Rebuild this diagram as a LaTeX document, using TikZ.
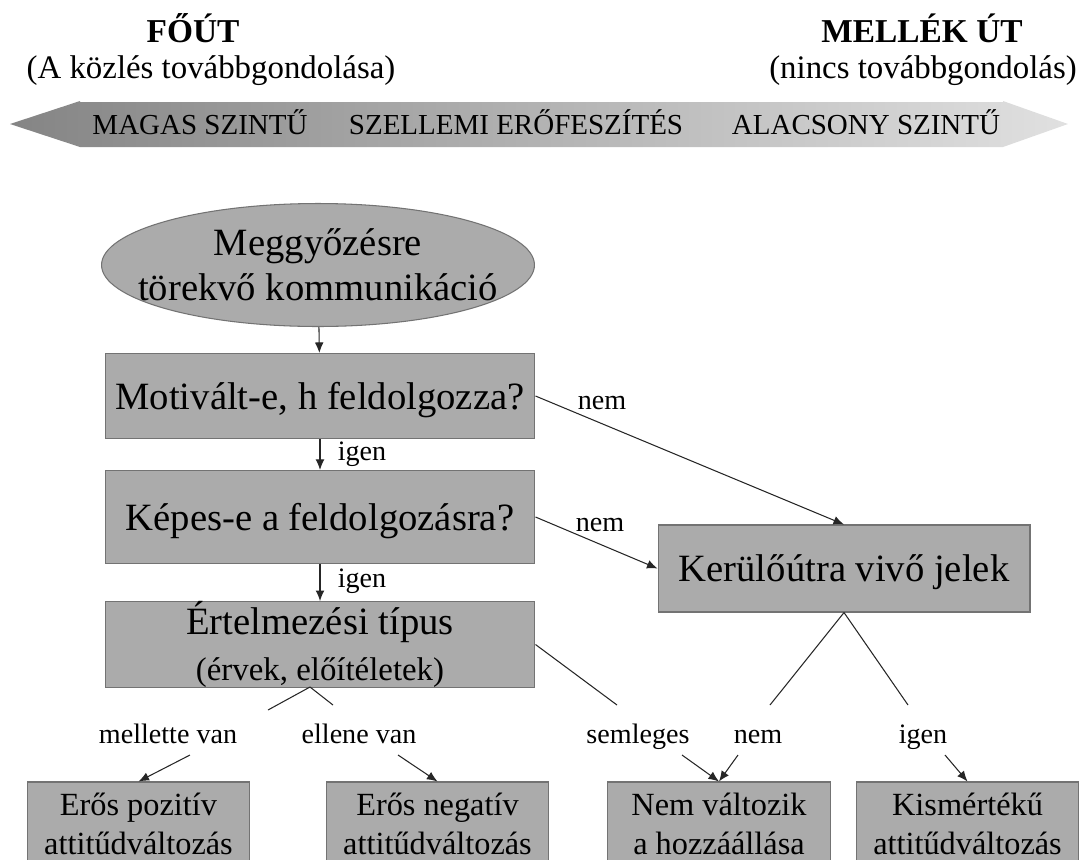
\documentclass[tikz,border=0pt]{standalone}
\usepackage{fontspec}
\setmainfont{Liberation Serif}
\usetikzlibrary{arrows.meta,shapes.geometric}
\begin{document}
\begin{tikzpicture}[x=0.02cm,y=-0.02cm,line width=0.6pt]
        \tikzstyle{doboz}=[draw=black!55,fill=black!33,inner sep=0pt,align=center,font=\fontsize{22}{26}\selectfont];
        \tikzstyle{egysor}=[doboz,text depth=0pt];
        \tikzstyle{eredmeny}=[doboz,minimum width=4.45cm,minimum height=1.68cm,font=\fontsize{18.4}{22}\selectfont];
        \tikzstyle{felirat}=[anchor=base,inner sep=0pt,font=\fontsize{16}{19}\selectfont];
        \tikzstyle{fejlec}=[anchor=base,inner sep=0pt,font=\fontsize{18.7}{22}\selectfont];
        \tikzstyle{vonal}=[draw=black!85];
        \tikzstyle{nyil}=[vonal,-{Latex[length=6pt,width=5pt]}];
        \useasboundingbox (0,0) rectangle (1081,859);
        \clip (0,0) rectangle (1081,859);
        %fejlec
        \node[fejlec,font=\fontsize{19}{22}\selectfont\bfseries] (fout) at (193,42) {FŐÚT};
        \node[fejlec] (fout2) at (211,78) {(A közlés továbbgondolása)};
        \node[fejlec,font=\fontsize{19}{22}\selectfont\bfseries] (mellek) at (922,42) {MELLÉK ÚT};
        \node[fejlec] (mellek2) at (923,78) {(nincs továbbgondolás)};
        %szurke nyil
        \shade[left color=black!48,right color=black!12] (10,124) -- (80,101) -- (80,102) -- (1003,102) -- (1003,101) -- (1068,124) -- (1003,147) -- (80,147) -- cycle;
        \node[felirat,font=\fontsize{16.5}{19}\selectfont] (magas) at (200,134) {MAGAS SZINTŰ};
        \node[felirat,font=\fontsize{16.5}{19}\selectfont] (szell) at (516,134) {SZELLEMI ERŐFESZÍTÉS};
        \node[felirat,font=\fontsize{16.5}{19}\selectfont] (alacs) at (866,134) {ALACSONY SZINTŰ};
        %csomopontok
        \node[doboz,ellipse,inner xsep=-3cm,inner ysep=-1.5cm,minimum width=8.66cm,minimum height=2.46cm,font=\fontsize{22}{25.5}\selectfont] (kozles) at (318,265) {Meggyőzésre\\törekvő kommunikáció};
        \node[egysor,minimum width=8.6cm,minimum height=1.7cm] (motiv) at (320,396) {Motivált-e, h feldolgozza?};
        \node[egysor,minimum width=8.6cm,minimum height=1.86cm] (kepes) at (320,517) {Képes-e a feldolgozásra?};
        \node[doboz,minimum width=8.6cm,minimum height=1.7cm] (ertelm) at (320,644.5) {Értelmezési típus\\{\fontsize{18.7}{22}\selectfont(érvek, előítéletek)}};
        \node[egysor,minimum width=7.44cm,minimum height=1.74cm] (kerulo) at (844,568.5) {Kerülőútra vivő jelek};
        \node[eredmeny] (poz) at (138.5,824) {Erős pozitív\\attitűdváltozás};
        \node[eredmeny] (neg) at (437.5,824) {Erős negatív\\attitűdváltozás};
        \node[eredmeny] (nemvalt) at (719,824) {Nem változik\\a hozzáállása};
        \node[eredmeny] (kism) at (967.5,824) {Kismértékű\\attitűdváltozás};
        %feliratok
        \node[felirat] (igen1) at (362,460) {igen};
        \node[felirat] (igen2) at (362,587) {igen};
        \node[felirat] (nem1) at (602,409) {nem};
        \node[felirat] (nem2) at (600,531) {nem};
        \node[felirat] (mell) at (168,743) {mellette van};
        \node[felirat] (ellen) at (359,743) {ellene van};
        \node[felirat] (semleg) at (638,743) {semleges};
        \node[felirat] (nem3) at (758,743) {nem};
        \node[felirat] (igen3) at (923,743) {igen};
        \coordinate (ert-al) at (310,687);
        \coordinate (mell-fel) at (268,710);
        \coordinate (ellen-fel) at (333,705);
        \coordinate (mell-le) at (190,755);
        \coordinate (ellen-le) at (398,755);
        \coordinate (sem-fel) at (617,705);
        \coordinate (sem-le) at (682,755);
        \coordinate (knem-fel) at (770,705);
        \coordinate (knem-le) at (738,755);
        \coordinate (kigen-fel) at (908,705);
        \coordinate (kigen-le) at (945,755);
        %nyilak
        \draw[nyil] (kozles) -- (motiv);
        \draw[nyil] (motiv) -- (kepes);
        \draw[nyil] (kepes) -- (ertelm);
        \draw[nyil] (motiv.east) -- (kerulo.north);
        \draw[nyil] (kepes.east) -- (kerulo.west);
        \draw[vonal] (ert-al) -- (mell-fel)
        (ert-al) -- (ellen-fel)
        (ertelm.east) -- (sem-fel)
        (kerulo.south) -- (knem-fel)
        (kerulo.south) -- (kigen-fel);
        \draw[nyil] (mell-le) -- (poz.north);
        \draw[nyil] (ellen-le) -- (neg.north);
        \draw[nyil] (sem-le) -- (nemvalt.north);
        \draw[nyil] (knem-le) -- (nemvalt.north);
        \draw[nyil] (kigen-le) -- (kism.north);
    \end{tikzpicture}
\end{document}
